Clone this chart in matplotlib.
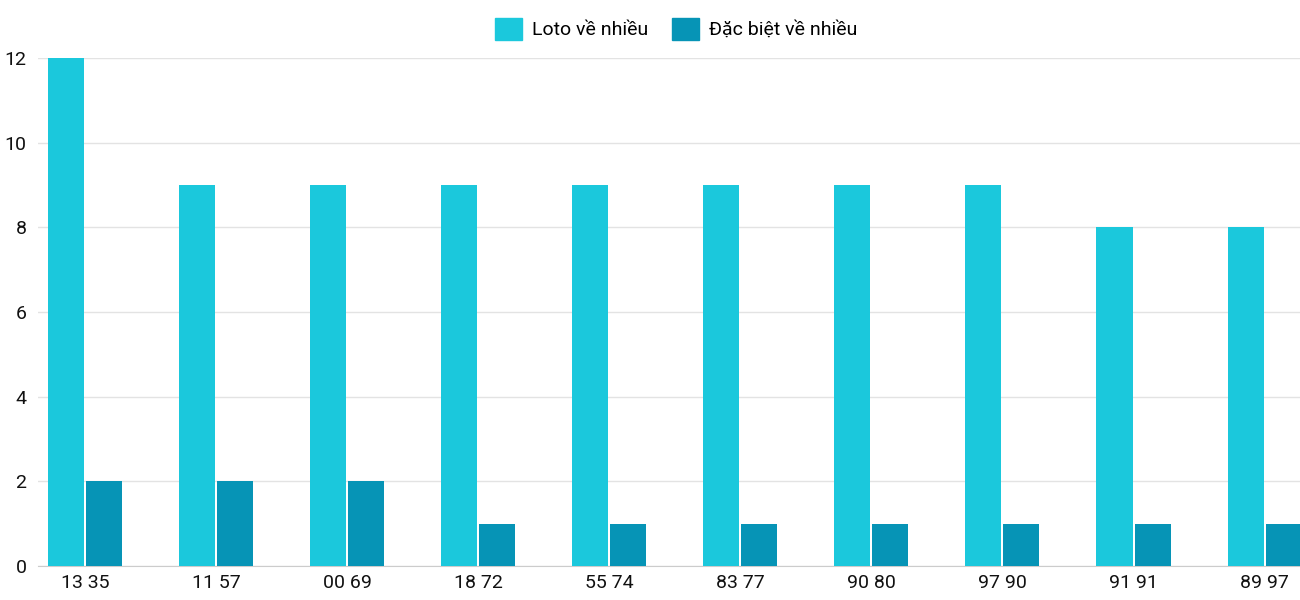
import matplotlib
matplotlib.use("Agg")
import matplotlib.pyplot as plt
import numpy as np
from matplotlib.patches import Patch

plt.rcParams['font.family'] = ['Roboto', 'DejaVu Sans']

labels = ['13 35', '11 57', '00 69', '18 72', '55 74', '83 77', '90 80', '97 90', '91 91', '89 97']
loto = [12, 9, 9, 9, 9, 9, 9, 9, 8, 8]
dacbiet = [2, 2, 2, 1, 1, 1, 1, 1, 1, 1]

c_loto = '#1bc8dc'
c_db = '#0694b6'

fig = plt.figure(figsize=(13, 6), dpi=100)
ax = fig.add_axes([0.029, 0.057, 0.971, 0.846])

x = np.arange(len(labels))
w = 0.275
ax.bar(x - 0.145, loto, w, color=c_loto, zorder=3)
ax.bar(x + 0.145, dacbiet, w, color=c_db, zorder=3)

ax.set_xlim(-0.36, 9.27)
ax.set_ylim(0, 12)
ax.set_yticks(range(0, 13, 2))
ax.set_xticks(x)
ax.set_xticklabels(labels)
ax.tick_params(axis='both', length=0, labelsize=14, colors='#111111')
ax.tick_params(axis='y', pad=8)
ax.tick_params(axis='x', pad=6)
ax.grid(axis='y', color='#e3e3e3', linewidth=1, zorder=0)
for s in ['top', 'right', 'left']:
    ax.spines[s].set_visible(False)
ax.spines['bottom'].set_color('#cccccc')

handles = [Patch(color=c_loto, label='Loto về nhiều'), Patch(color=c_db, label='Đặc biệt về nhiều')]
fig.legend(handles=handles, loc='upper center', bbox_to_anchor=(0.52, 1.0), ncol=2,
           frameon=False, fontsize=14, handlelength=1.4, handleheight=1.4, columnspacing=1.2,
           handletextpad=0.5)

fig.savefig('out.png', dpi=100)
